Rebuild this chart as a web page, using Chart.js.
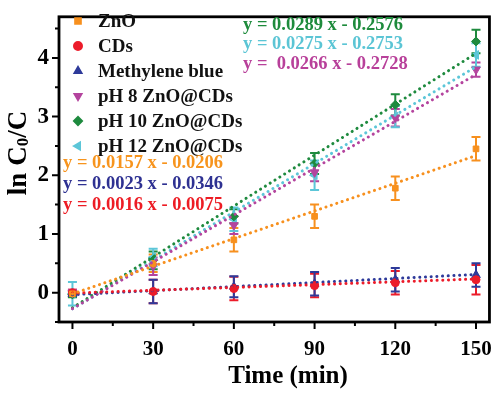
<!DOCTYPE html>
<html>
<head>
<meta charset="utf-8">
<script src="https://cdn.jsdelivr.net/npm/chart.js@4.4.1/dist/chart.umd.min.js"></script>
<style>
  html, body { margin: 0; padding: 0; background: #fff; }
</style>
</head>
<body>
<canvas id="kineticsChart" width="500" height="396"></canvas>
<script>
// data
const times = [0, 30, 60, 90, 120, 150];
const seriesNames = ['ZnO', 'CDs', 'Methylene blue', 'pH 8 ZnO@CDs', 'pH 10 ZnO@CDs', 'pH 12 ZnO@CDs'];

const znoVals  = [-0.02, 0.50, 0.90, 1.30, 1.78, 2.45];
const cdsVals  = [0.00, 0.02, 0.07, 0.12, 0.17, 0.22];
const mbVals   = [-0.02, 0.02, 0.10, 0.15, 0.22, 0.30];
const ph8Vals  = [0.00, 0.45, 1.15, 2.05, 2.98, 3.80];
const ph10Vals = [-0.03, 0.55, 1.30, 2.20, 3.20, 4.28];
const ph12Vals = [-0.02, 0.60, 1.25, 2.00, 3.00, 4.05];

const znoErr  = [0.05, 0.15, 0.20, 0.20, 0.20, 0.20];
const cdsErr  = [0.05, 0.20, 0.20, 0.20, 0.20, 0.25];
const mbErr   = [0.05, 0.20, 0.18, 0.20, 0.20, 0.20];
const ph8Err  = [0.05, 0.15, 0.15, 0.15, 0.15, 0.12];
const ph10Err = [0.05, 0.15, 0.12, 0.18, 0.18, 0.20];
const ph12Err = [0.20, 0.15, 0.20, 0.25, 0.18, 0.20];

// linear fits printed on the figure
const fitSlopes     = [0.0157, 0.0016, 0.0023, 0.0266, 0.0289, 0.0275];
const fitIntercepts = [-0.0206, -0.0075, -0.0346, -0.2728, -0.2576, -0.2753];
const fitLabels = [
  'y = 0.0157 x - 0.0206',
  'y = 0.0016 x - 0.0075',
  'y = 0.0023 x - 0.0346',
  'y =  0.0266 x - 0.2728',
  'y = 0.0289 x - 0.2576',
  'y = 0.0275 x - 0.2753'
];

const xTicks = [0, 30, 60, 90, 120, 150];
const yTicks = [0, 1, 2, 3, 4];

const allVals = [znoVals, cdsVals, mbVals, ph8Vals, ph10Vals, ph12Vals];
const allErrs = [znoErr, cdsErr, mbErr, ph8Err, ph10Err, ph12Err];
const colors = ['#f7901e', '#ec1c2a', '#2e3a9a', '#b4449e', '#1e8a3e', '#5cc6d8'];
const eqColors = ['#f7941d', '#ed1c24', '#2e3192', '#b8409a', '#1e8b3c', '#5bc5d5'];
const styles = ['rect', 'circle', 'triangle', 'triangle', 'rectRot', 'triangle'];
const rotations = [0, 0, 0, 180, 0, 270];
const radii = [4, 4, 5, 5, 4.5, 5];

const FONT = '"Liberation Serif", "Times New Roman", serif';

let datasets = [];
// fit lines first so markers sit on top
for (let i = 0; i < seriesNames.length; i++) {
  datasets.push({
    label: seriesNames[i] + ' fit',
    data: [0, 150].map(t => ({ x: t, y: fitSlopes[i] * t + fitIntercepts[i] })),
    borderColor: colors[i],
    borderWidth: 3,
    borderDash: [0.1, 5.6],
    borderCapStyle: 'round',
    pointRadius: 0,
    showLine: true,
    fill: false
  });
}
for (let i = 0; i < seriesNames.length; i++) {
  datasets.push({
    label: seriesNames[i],
    data: times.map((t, j) => ({ x: t, y: allVals[i][j] })),
    errs: allErrs[i],
    showLine: false,
    pointStyle: styles[i],
    rotation: rotations[i],
    pointRadius: radii[i],
    backgroundColor: colors[i],
    borderColor: colors[i],
    borderWidth: 1
  });
}

const errorBars = {
  id: 'errorBars',
  beforeDatasetsDraw(chart) {
    const ctx = chart.ctx;
    const xs = chart.scales.x, ys = chart.scales.y;
    ctx.save();
    ctx.lineWidth = 2;
    chart.data.datasets.forEach(ds => {
      if (!ds.errs) return;
      ctx.strokeStyle = ds.borderColor;
      ds.data.forEach((p, j) => {
        const px = xs.getPixelForValue(p.x);
        const top = ys.getPixelForValue(p.y + ds.errs[j]);
        const bot = ys.getPixelForValue(p.y - ds.errs[j]);
        ctx.beginPath();
        ctx.moveTo(px, top); ctx.lineTo(px, bot);
        ctx.moveTo(px - 4.5, top); ctx.lineTo(px + 4.5, top);
        ctx.moveTo(px - 4.5, bot); ctx.lineTo(px + 4.5, bot);
        ctx.stroke();
      });
    });
    ctx.restore();
  }
};

const frameAndText = {
  id: 'frameAndText',
  afterDraw(chart) {
    const ctx = chart.ctx;
    const a = chart.chartArea;
    const xs = chart.scales.x, ys = chart.scales.y;
    ctx.save();
    // frame
    ctx.strokeStyle = '#000';
    ctx.lineWidth = 2.8;
    ctx.strokeRect(a.left, a.top, a.right - a.left, a.bottom - a.top);
    // ticks
    ctx.lineWidth = 2;
    ctx.beginPath();
    for (let v = 0; v <= 150; v += 15) {
      const px = xs.getPixelForValue(v);
      const len = v % 30 === 0 ? 7 : 4;
      ctx.moveTo(px, a.bottom); ctx.lineTo(px, a.bottom + len);
    }
    for (let v = -0.5; v <= 4.5; v += 0.5) {
      const py = ys.getPixelForValue(v);
      const len = Number.isInteger(v) ? 7 : 4;
      ctx.moveTo(a.left, py); ctx.lineTo(a.left - len, py);
    }
    ctx.stroke();

    // axis titles
    ctx.fillStyle = '#000';
    ctx.font = 'bold 25px ' + FONT;
    ctx.textAlign = 'center';
    ctx.textBaseline = 'middle';
    ctx.fillText('Time (min)', 288, 377);

    ctx.save();
    ctx.translate(19, 153);
    ctx.rotate(-Math.PI / 2);
    ctx.textAlign = 'left';
    const p1 = 'ln C', p2 = '0', p3 = '/C';
    ctx.font = 'bold 27px ' + FONT;
    const w1 = ctx.measureText(p1).width, w3 = ctx.measureText(p3).width;
    ctx.font = 'bold 17px ' + FONT;
    const w2 = ctx.measureText(p2).width;
    let x0 = -(w1 + w2 + w3) / 2;
    ctx.font = 'bold 27px ' + FONT;
    ctx.fillText(p1, x0, 0);
    ctx.font = 'bold 17px ' + FONT;
    ctx.fillText(p2, x0 + w1, 5);
    ctx.font = 'bold 27px ' + FONT;
    ctx.fillText(p3, x0 + w1 + w2, 0);
    ctx.restore();

    // legend
    ctx.font = 'bold 19px ' + FONT;
    ctx.textAlign = 'left';
    ctx.textBaseline = 'middle';
    for (let i = 0; i < seriesNames.length; i++) {
      const ly = 21 + i * 25;
      ctx.fillStyle = colors[i];
      ctx.strokeStyle = colors[i];
      Chart.helpers.drawPoint(ctx, {
        pointStyle: styles[i], radius: 4, rotation: rotations[i], borderWidth: 1
      }, 78, ly);
      ctx.fillStyle = '#111';
      ctx.fillText(seriesNames[i], 98, ly + 1);
    }

    // fit equations
    ctx.font = 'bold 18.5px ' + FONT;
    const eqPos = [[63, 163], [63, 205], [63, 184], [243, 64], [243, 25], [243, 44]];
    for (let i = 0; i < fitLabels.length; i++) {
      ctx.fillStyle = eqColors[i];
      ctx.fillText(fitLabels[i], eqPos[i][0], eqPos[i][1]);
    }
    ctx.restore();
  }
};

const kineticsChart = new Chart(document.getElementById('kineticsChart').getContext('2d'), {
  type: 'scatter',
  data: { datasets: datasets },
  options: {
    responsive: false,
    animation: false,
    devicePixelRatio: 1,
    layout: { padding: { top: 3, right: 8, left: 0, bottom: 0 } },
    plugins: { legend: { display: false }, tooltip: { enabled: false } },
    scales: {
      x: {
        type: 'linear',
        min: -5,
        max: 155,
        afterBuildTicks: s => { s.ticks = xTicks.map(v => ({ value: v })); },
        afterFit: s => { s.height = 74; },
        grid: { color: 'transparent', drawOnChartArea: false, tickLength: 7 },
        border: { display: false },
        ticks: {
          color: '#000',
          padding: 8,
          maxRotation: 0,
          font: { family: FONT, weight: 'bold', size: 21 }
        }
      },
      y: {
        min: -0.5,
        max: 4.7,
        afterBuildTicks: s => { s.ticks = yTicks.map(v => ({ value: v })); },
        afterFit: s => { s.width = 59; },
        grid: { color: 'transparent', drawOnChartArea: false, tickLength: 7 },
        border: { display: false },
        ticks: {
          color: '#000',
          padding: 3,
          font: { family: FONT, weight: 'bold', size: 23 }
        }
      }
    }
  },
  plugins: [errorBars, frameAndText]
});
</script>
</body>
</html>
